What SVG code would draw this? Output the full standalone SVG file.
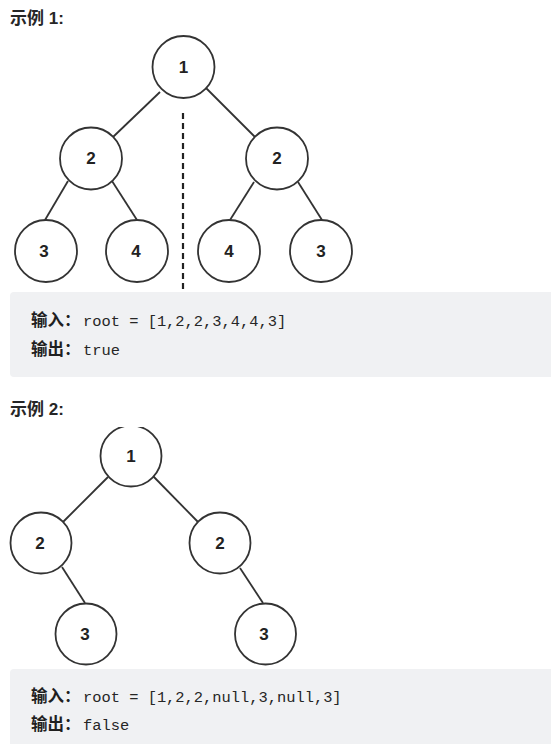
<svg xmlns="http://www.w3.org/2000/svg" width="551" height="744" viewBox="0 0 551 744">
<style>
.title{font-family:"Liberation Sans","Noto Sans CJK SC",sans-serif;font-weight:bold;font-size:17px;fill:#262626}
.node circle{fill:#fff;stroke:#333;stroke-width:1.8}
.node text{font-family:"Liberation Sans",Arial,sans-serif;font-weight:bold;font-size:17px;fill:#222;text-anchor:middle;dominant-baseline:central}
.edge{stroke:#333;stroke-width:1.8;fill:none}
.box{fill:#f0f1f3}
.lbl{font-family:"Noto Sans CJK SC",sans-serif;font-weight:bold;font-size:16.5px;fill:#1f1f1f}
.code{font-family:"Liberation Mono","DejaVu Sans Mono",monospace;font-size:15.4px;fill:#262626}
</style>
<defs>
<clipPath id="c1"><rect x="14" y="35" width="339" height="258"/></clipPath>
<clipPath id="c2"><rect x="9" y="427" width="312" height="240"/></clipPath>
</defs>
<rect width="551" height="744" fill="#fff"/>
<text class="title" x="10" y="24">示例 1:</text>
<g clip-path="url(#c1)">
<g id="connectors1">
<line class="edge" x1="160" y1="92" x2="113" y2="137"/>
<line class="edge" x1="206" y1="88" x2="255" y2="137"/>
<line class="edge" x1="68" y1="181" x2="45" y2="220"/>
<line class="edge" x1="112" y1="181" x2="137" y2="220"/>
<line class="edge" x1="254" y1="182" x2="230" y2="220"/>
<line class="edge" x1="298" y1="182" x2="322" y2="220"/>
<line x1="183" y1="113" x2="183" y2="293" stroke="#222" stroke-width="2.2" stroke-dasharray="6,4"/>
</g>
<g id="a1" class="node"><circle cx="183.5" cy="67" r="31"/><text x="183.5" y="67">1</text></g>
<g id="a2l" class="node"><circle cx="91" cy="158.5" r="31"/><text x="91" y="158.5">2</text></g>
<g id="a2r" class="node"><circle cx="277" cy="158.5" r="31"/><text x="277" y="158.5">2</text></g>
<g id="a3l" class="node"><circle cx="46" cy="251" r="31"/><text x="44" y="251">3</text></g>
<g id="a4l" class="node"><circle cx="137" cy="251" r="31"/><text x="136" y="251">4</text></g>
<g id="a4r" class="node"><circle cx="229" cy="251" r="31"/><text x="229" y="251">4</text></g>
<g id="a3r" class="node"><circle cx="321" cy="251" r="31"/><text x="321" y="251">3</text></g>
</g>
<rect class="box" x="10" y="292" width="560" height="85" rx="4"/>
<text class="lbl" x="31" y="326">输入：</text>
<text class="code" x="83" y="326">root = [1,2,2,3,4,4,3]</text>
<text class="lbl" x="31" y="355">输出：</text>
<text class="code" x="83" y="355">true</text>
<text class="title" x="10" y="415">示例 2:</text>
<g clip-path="url(#c2)">
<g id="connectors2">
<line class="edge" x1="108" y1="477" x2="63" y2="522"/>
<line class="edge" x1="152" y1="475" x2="199" y2="523"/>
<line class="edge" x1="62" y1="567" x2="85" y2="603"/>
<line class="edge" x1="240" y1="568" x2="263" y2="603"/>
</g>
<g id="b1" class="node"><circle cx="131" cy="456" r="30.5"/><text x="131" y="456">1</text></g>
<g id="b2l" class="node"><circle cx="41" cy="543" r="30.5"/><text x="40" y="543">2</text></g>
<g id="b2r" class="node"><circle cx="220" cy="543" r="30.5"/><text x="220" y="543">2</text></g>
<g id="b3l" class="node"><circle cx="86" cy="634" r="30.5"/><text x="85" y="634">3</text></g>
<g id="b3r" class="node"><circle cx="265.5" cy="634" r="30.5"/><text x="264" y="634">3</text></g>
</g>
<rect class="box" x="10" y="669" width="560" height="90" rx="4"/>
<text class="lbl" x="31" y="702">输入：</text>
<text class="code" x="83" y="702">root = [1,2,2,null,3,null,3]</text>
<text class="lbl" x="31" y="730">输出：</text>
<text class="code" x="83" y="730">false</text>
</svg>
